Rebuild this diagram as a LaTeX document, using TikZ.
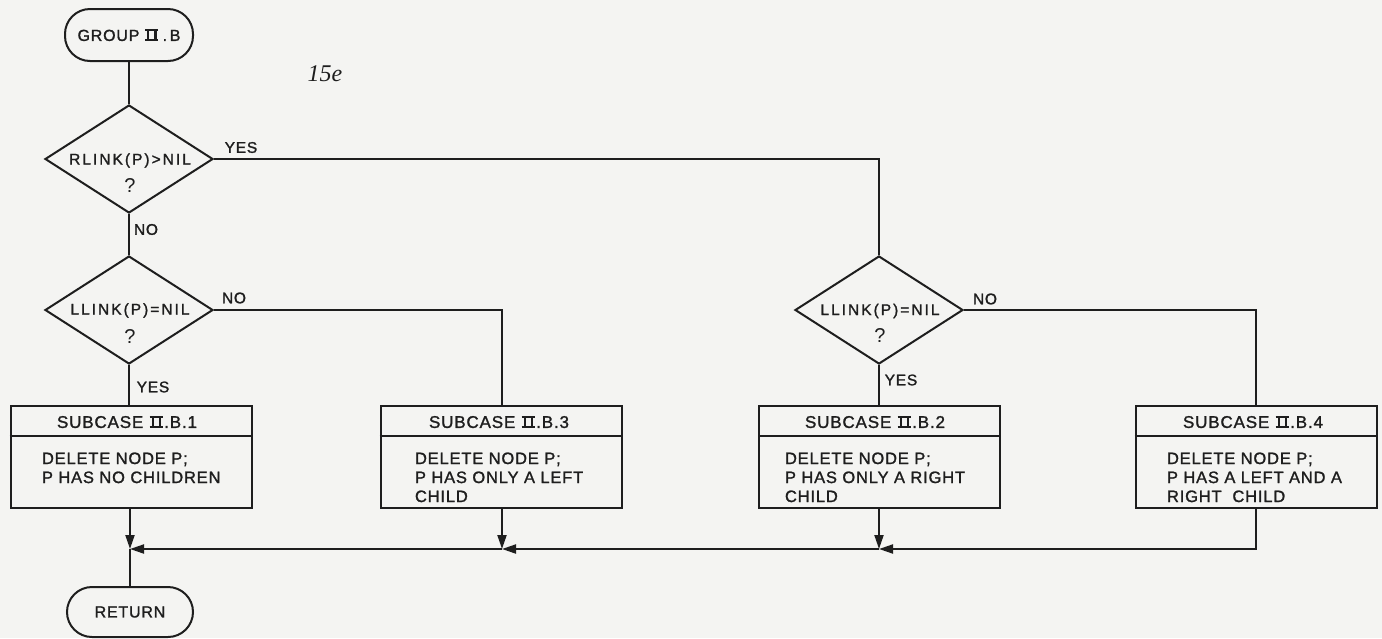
\documentclass[tikz,border=0pt]{standalone}
\usepackage{fontspec}
\setmainfont{Liberation Sans}
\newfontfamily\bodyf[LetterSpace=5,FakeBold=1.4]{Liberation Sans}
\newfontfamily\diaf[LetterSpace=13,FakeBold=1.4]{Liberation Sans}
\newfontfamily\qf{Liberation Sans}
\newfontfamily\numf{Liberation Serif}
\usetikzlibrary{shapes.geometric,arrows.meta}
\definecolor{ink}{HTML}{1E1E1E}
\definecolor{paper}{HTML}{F4F4F2}
\newcommand{\RomII}{\kern0.8pt\vbox{\hrule width 13pt height 1.8pt\hbox to 13pt{\hskip1.8pt\vrule width 2.2pt height 8.4pt\hfil\vrule width 2.2pt height 8.4pt\hskip1.8pt}\hrule width 13pt height 1.8pt}\kern1.5pt}
\begin{document}
\begin{tikzpicture}[x=1pt,y=-1pt,line width=2pt,color=ink,
  term/.style={draw,rounded corners=25pt,minimum width=128pt,minimum height=52pt,inner sep=0pt,font=\bodyf\fontsize{16}{18}\selectfont},
  dia/.style={draw,diamond,minimum width=168pt,minimum height=108pt,inner sep=0pt},
  dtext/.style={inner sep=0pt,font=\diaf\fontsize{15.5}{18}\selectfont},
  qtext/.style={inner sep=0pt,font=\qf\fontsize{20}{22}\selectfont},
  lbl/.style={inner sep=0pt,font=\bodyf\fontsize{15.5}{18}\selectfont},
  sbox/.style={draw,minimum width=241pt,minimum height=102pt,inner sep=0pt},
  head/.style={inner sep=0pt,font=\bodyf\fontsize{17}{20}\selectfont},
  body/.style={inner sep=0pt,anchor=north west,align=left,font=\bodyf\fontsize{16.5}{19}\selectfont},
  arr/.style={-{Triangle[length=14pt,width=9pt]}}]
\fill[paper] (0,0) rectangle (1382,638);
\useasboundingbox (0,0) rectangle (1382,638);

% terminals
\node[term] (start) at (129,35) {GROUP \RomII\,.\,B};
\node[term,minimum width=126pt,minimum height=50pt] (ret) at (130,612) {RETURN};

% page number
\node[inner sep=0pt,font=\numf\itshape\fontsize{24}{27}\selectfont] (pg) at (325,74) {15e};

% decisions
\node[dia] (d1) at (129,159) {};
\node[dtext] (d1t) at (130,160.5) {RLINK(P)>NIL};
\node[qtext] (d1q) at (130,186) {?};

\node[dia] (d2) at (129,310) {};
\node[dtext] (d2t) at (130,310.5) {LLINK(P)=NIL};
\node[qtext] (d2q) at (130,337) {?};

\node[dia] (d3) at (879,310) {};
\node[dtext] (d3t) at (880,311) {LLINK(P)=NIL};
\node[qtext] (d3q) at (880,336) {?};

% boxes
\node[sbox] (b1) at (131,457) {};
\node[sbox] (b3) at (501,457) {};
\node[sbox] (b2) at (879.5,457) {};
\node[sbox] (b4) at (1256,457) {};
\foreach \b in {b1,b2,b3,b4}{
  \draw ([yshift=-31pt]\b.north west) -- ([yshift=-31pt]\b.north east);
}
\node[head] (h1) at (127,422) {SUBCASE \RomII.B.1};
\node[head] (h3) at (499,422) {SUBCASE \RomII.B.3};
\node[head] (h2) at (875,422) {SUBCASE \RomII.B.2};
\node[head] (h4) at (1253,422) {SUBCASE \RomII.B.4};

\node[body] (t1) at (41,451.5) {DELETE NODE P;\\P HAS NO CHILDREN};
\node[body] (t3) at (414,451.5) {DELETE NODE P;\\P HAS ONLY A LEFT\\CHILD};
\node[body] (t2) at (784,451.5) {DELETE NODE P;\\P HAS ONLY A RIGHT\\CHILD};
\node[body] (t4) at (1166,451.5) {DELETE NODE P;\\P HAS A LEFT AND A\\RIGHT\ \ CHILD};

% connectors
\draw (start.south) -- (d1.north);
\draw (d1.east) -| (d3.north);
\draw (d1.south) -- (d2.north);
\draw (d2.east) -| (b3.north -| 502,0);
\draw (d2.south) -- (d2.south |- b1.north);
\draw (d3.east) -| (b4.north);
\draw (d3.south) -- (d3.south |- b2.north);

% labels
\node[lbl] (l1) at (241,147.5) {YES};
\node[lbl] (l2) at (146,229.5) {NO};
\node[lbl] (l3) at (234,298) {NO};
\node[lbl] (l4) at (153,387) {YES};
\node[lbl] (l5) at (985,299) {NO};
\node[lbl] (l6) at (901,380) {YES};

% merge
\coordinate (j1) at (130,549);
\coordinate (j3) at (502,549);
\coordinate (j2) at (879,549);
\draw[arr] (j1 |- b1.south) -- (j1);
\draw[arr] (j3 |- b3.south) -- (j3);
\draw[arr] (j2 |- b2.south) -- (j2);
\draw[arr] (b4.south) |- (j2);
\draw[arr] (j2) -- (j3);
\draw[arr] (j3) -- (j1);
\draw (j1) -- (ret.north);
\end{tikzpicture}
\end{document}
